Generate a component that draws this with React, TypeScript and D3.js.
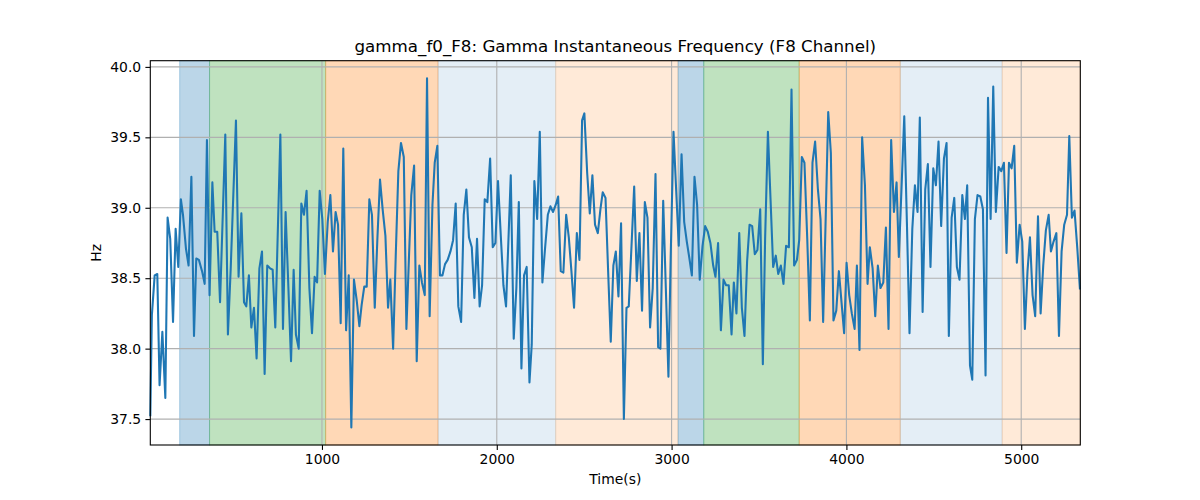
import React, { useEffect, useRef } from "react";
import * as d3 from "d3";

// time (s) of each sample
const times = [
  18, 27, 43, 58, 71, 87, 104, 117, 132, 148, 163, 178, 193, 205, 222, 237, 253, 268, 281, 296,
  314, 329, 342, 357, 373, 386, 401, 417, 447, 462, 478, 508, 523, 539, 554, 567, 582, 596, 611, 626,
  642, 657, 672, 687, 703, 718, 733, 762, 777, 792, 808, 823, 838, 851, 867, 882, 897, 912, 928, 943,
  958, 972, 987, 1002, 1017, 1033, 1048, 1063, 1078, 1092, 1107, 1122, 1138, 1153, 1168, 1183, 1199, 1214, 1227, 1242,
  1256, 1271, 1286, 1302, 1317, 1332, 1347, 1363, 1378, 1391, 1407, 1422, 1437, 1452, 1468, 1483, 1498, 1511, 1527, 1542,
  1557, 1572, 1588, 1601, 1616, 1632, 1645, 1660, 1675, 1689, 1704, 1719, 1735, 1750, 1765, 1780, 1796, 1811, 1826, 1841,
  1857, 1872, 1887, 1902, 1916, 1931, 1946, 1962, 1977, 1992, 2007, 2023, 2038, 2053, 2080, 2097, 2112, 2126, 2141, 2156,
  2171, 2187, 2200, 2215, 2231, 2246, 2261, 2276, 2292, 2307, 2322, 2337, 2351, 2366, 2381, 2397, 2412, 2427, 2442, 2458,
  2473, 2488, 2501, 2517, 2532, 2547, 2562, 2578, 2593, 2606, 2622, 2637, 2652, 2667, 2681, 2696, 2711, 2727, 2742, 2755,
  2770, 2786, 2801, 2816, 2831, 2847, 2862, 2877, 2892, 2908, 2923, 2936, 2952, 2967, 2982, 2995, 3011, 3026, 3041, 3057,
  3072, 3087, 3102, 3116, 3131, 3146, 3161, 3177, 3192, 3207, 3222, 3238, 3251, 3266, 3282, 3297, 3312, 3327, 3343, 3356,
  3371, 3387, 3402, 3417, 3432, 3446, 3461, 3476, 3491, 3507, 3522, 3535, 3551, 3566, 3581, 3596, 3610, 3625, 3640, 3655,
  3671, 3686, 3701, 3717, 3730, 3745, 3760, 3776, 3791, 3806, 3821, 3837, 3852, 3867, 3882, 3896, 3911, 3926, 3942, 3957,
  3972, 3987, 4001, 4016, 4031, 4047, 4060, 4075, 4090, 4106, 4121, 4134, 4150, 4165, 4180, 4195, 4211, 4226, 4241, 4256,
  4272, 4287, 4300, 4315, 4331, 4346, 4361, 4377, 4392, 4407, 4420, 4436, 4451, 4466, 4481, 4497, 4512, 4527, 4542, 4558,
  4573, 4586, 4602, 4617, 4632, 4647, 4663, 4678, 4691, 4707, 4720, 4735, 4750, 4766, 4781, 4796, 4810, 4825, 4840, 4855,
  4871, 4886, 4901, 4916, 4930, 4945, 4960, 4975, 4991, 5006, 5021, 5036, 5050, 5065, 5080, 5096, 5111, 5126, 5141, 5157,
  5170, 5185, 5201, 5216, 5231, 5246, 5262, 5275, 5290, 5305, 5321, 5336,
];

// instantaneous frequency (Hz)
const freqs = [
  37.52, 38.24, 38.52, 38.53, 37.74, 38.12, 37.65, 38.93, 38.78, 38.19, 38.85, 38.58, 39.06, 38.95, 38.71, 38.59, 39.22, 38.09, 38.64, 38.63,
  38.55, 38.46, 39.48, 38.38, 39.18, 38.83, 38.83, 38.33, 39.52, 38.10, 38.57, 39.62, 38.51, 38.96, 38.33, 38.30, 38.52, 38.15, 38.29, 37.93,
  38.57, 38.69, 37.82, 38.59, 38.57, 38.56, 38.15, 39.52, 38.14, 38.97, 38.43, 37.91, 38.56, 38.10, 38.00, 39.03, 38.95, 39.12, 38.43, 38.11,
  38.51, 38.47, 39.12, 38.92, 38.53, 38.90, 39.09, 38.69, 38.97, 38.88, 38.18, 39.42, 38.13, 38.52, 37.44, 38.49, 38.34, 38.16, 38.31, 38.44,
  38.44, 39.06, 38.95, 38.29, 38.78, 39.20, 38.99, 38.80, 38.29, 38.49, 38.00, 38.66, 39.26, 39.46, 39.36, 38.14, 38.66, 39.09, 39.30, 37.91,
  38.59, 38.47, 38.38, 39.92, 38.23, 39.02, 39.32, 39.44, 38.52, 38.52, 38.60, 38.63, 38.69, 38.77, 39.03, 38.30, 38.19, 38.95, 39.13, 38.79,
  38.72, 38.36, 38.78, 38.30, 38.45, 39.06, 39.04, 39.35, 38.72, 38.75, 39.19, 38.80, 38.45, 38.30, 39.23, 38.07, 38.43, 39.04, 37.86, 38.52,
  38.58, 37.76, 38.03, 39.19, 38.92, 39.54, 38.47, 38.71, 38.95, 39.01, 38.97, 39.02, 39.08, 38.55, 38.54, 38.95, 38.79, 38.55, 38.29, 38.82,
  38.63, 39.62, 39.67, 39.25, 38.96, 39.23, 38.88, 38.82, 38.99, 39.11, 39.07, 38.55, 38.05, 38.59, 38.69, 38.37, 38.89, 37.50, 38.29, 38.30,
  38.71, 39.15, 38.48, 38.82, 38.27, 39.04, 38.93, 38.15, 38.43, 39.24, 38.01, 38.00, 39.05, 38.43, 37.80, 38.66, 39.54, 39.13, 38.73, 39.38,
  38.90, 38.76, 38.64, 38.52, 39.22, 39.02, 38.49, 38.73, 38.87, 38.83, 38.75, 38.59, 38.51, 38.75, 38.13, 38.49, 38.45, 38.45, 38.10, 38.47,
  38.25, 38.82, 38.29, 38.09, 38.62, 38.88, 38.87, 38.67, 38.70, 38.99, 37.89, 38.78, 39.54, 39.06, 38.58, 38.66, 38.53, 38.59, 38.46, 38.73,
  38.72, 39.84, 38.59, 38.63, 38.77, 39.36, 39.32, 38.78, 38.20, 39.32, 39.47, 39.13, 38.92, 38.19, 38.95, 39.68, 39.39, 38.20, 38.27, 38.55,
  38.33, 38.11, 38.61, 38.38, 38.25, 38.14, 38.59, 37.99, 39.50, 39.16, 38.46, 38.72, 38.57, 38.23, 38.59, 38.43, 38.47, 38.86, 38.14, 39.48,
  38.97, 39.18, 38.65, 39.13, 39.65, 38.90, 38.11, 38.85, 39.16, 38.97, 39.64, 38.26, 39.13, 39.31, 38.58, 39.28, 39.16, 39.47, 38.87, 39.35,
  39.46, 38.09, 38.93, 39.07, 38.58, 38.49, 39.09, 38.92, 39.16, 37.88, 37.78, 38.92, 39.09, 39.08, 38.99, 37.81, 39.78, 38.92, 39.86, 38.97,
  39.29, 39.26, 39.32, 38.68, 39.32, 39.28, 39.44, 38.61, 38.88, 38.76, 38.14, 38.55, 38.79, 38.38, 38.23, 38.94, 38.25, 38.59, 38.84, 38.95,
  38.69, 38.76, 38.82, 38.09, 38.69, 38.88, 38.95, 39.51, 38.93, 38.98, 38.71, 38.42,
];

// shaded stage intervals (start, end, colour, alpha)
const bandStarts = [186, 357, 1021, 1664, 2337, 3037, 3184, 3730, 4308, 4891];
const bandEnds = [357, 1021, 1664, 2337, 3037, 3184, 3730, 4308, 4891, 5338];
const bandColors = ["#1f77b4", "#2ca02c", "#ff7f0e", "#1f77b4", "#ff7f0e", "#1f77b4", "#2ca02c", "#ff7f0e", "#1f77b4", "#ff7f0e"];
const bandAlphas = [0.3, 0.3, 0.3, 0.12, 0.16, 0.3, 0.3, 0.3, 0.12, 0.16];

const xTicks = [1000, 2000, 3000, 4000, 5000];
const yTicks = [37.5, 38.0, 38.5, 39.0, 39.5, 40.0];

const W = 1200;
const H = 500;
const margin = { top: 60.7, right: 119.7, bottom: 55, left: 150.3 };
const FONT = "DejaVu Sans, sans-serif";

export default function App() {
  const ref = useRef<SVGSVGElement | null>(null);

  useEffect(() => {
    const svg = d3.select(ref.current);
    svg.selectAll("*").remove();

    const width = W - margin.left - margin.right;
    const height = H - margin.top - margin.bottom;

    const g = svg.append("g").attr("transform", `translate(${margin.left},${margin.top})`);

    const x = d3.scaleLinear().domain([18, 5338]).range([0, width]);
    const [lo, hi] = d3.extent(freqs) as [number, number];
    const pad = (hi - lo) * 0.05;
    const y = d3.scaleLinear().domain([lo - pad, hi + pad]).range([height, 0]);

    // bands
    g.selectAll("rect.band")
      .data(bandStarts)
      .enter()
      .append("rect")
      .attr("class", "band")
      .attr("x", (d) => x(d))
      .attr("y", 0)
      .attr("width", (d, i) => x(bandEnds[i]) - x(d))
      .attr("height", height)
      .attr("fill", (d, i) => bandColors[i])
      .attr("fill-opacity", (d, i) => bandAlphas[i])
      .attr("stroke", (d, i) => bandColors[i])
      .attr("stroke-opacity", (d, i) => bandAlphas[i])
      .attr("stroke-width", 1);

    // grid
    g.selectAll("line.gx")
      .data(xTicks)
      .enter()
      .append("line")
      .attr("x1", (d) => x(d))
      .attr("x2", (d) => x(d))
      .attr("y1", 0)
      .attr("y2", height)
      .attr("stroke", "#b0b0b0")
      .attr("stroke-width", 1.1);
    g.selectAll("line.gy")
      .data(yTicks)
      .enter()
      .append("line")
      .attr("x1", 0)
      .attr("x2", width)
      .attr("y1", (d) => y(d))
      .attr("y2", (d) => y(d))
      .attr("stroke", "#b0b0b0")
      .attr("stroke-width", 1.1);

    // line
    const line = d3
      .line<number>()
      .x((d, i) => x(times[i]))
      .y((d) => y(d));
    g.append("path")
      .datum(freqs)
      .attr("d", line)
      .attr("fill", "none")
      .attr("stroke", "#1f77b4")
      .attr("stroke-width", 2.08)
      .attr("stroke-linejoin", "round");

    // axes
    const xAxis = g
      .append("g")
      .attr("transform", `translate(0,${height})`)
      .call(d3.axisBottom(x).tickValues(xTicks).tickFormat(d3.format("d")).tickSize(4.9).tickPadding(4.2));
    const yAxis = g
      .append("g")
      .call(d3.axisLeft(y).tickValues(yTicks).tickFormat(d3.format(".1f")).tickSize(4.9).tickPadding(4.2));
    [xAxis, yAxis].forEach((a) => {
      a.select(".domain").remove();
      a.selectAll("line").attr("stroke", "#000").attr("stroke-width", 1.1);
      a.selectAll("text").attr("font-family", FONT).attr("font-size", 13.9).attr("fill", "#000");
    });

    // frame
    g.append("rect")
      .attr("width", width)
      .attr("height", height)
      .attr("fill", "none")
      .attr("stroke", "#000")
      .attr("stroke-width", 1.1);

    // labels
    svg
      .append("text")
      .attr("x", margin.left + width / 2)
      .attr("y", 52)
      .attr("text-anchor", "middle")
      .attr("font-family", FONT)
      .attr("font-size", 16.7)
      .text("gamma_f0_F8: Gamma Instantaneous Frequency (F8 Channel)");
    svg
      .append("text")
      .attr("x", margin.left + width / 2)
      .attr("y", 484)
      .attr("text-anchor", "middle")
      .attr("font-family", FONT)
      .attr("font-size", 13.9)
      .text("Time(s)");
    svg
      .append("text")
      .attr("transform", `translate(101,${margin.top + height / 2}) rotate(-90)`)
      .attr("text-anchor", "middle")
      .attr("font-family", FONT)
      .attr("font-size", 13.9)
      .text("Hz");
  }, []);

  return (
    <div style={{ position: "absolute", left: 0, top: 0 }}>
      <svg ref={ref} width={W} height={H} style={{ display: "block", background: "#fff" }} />
    </div>
  );
}
